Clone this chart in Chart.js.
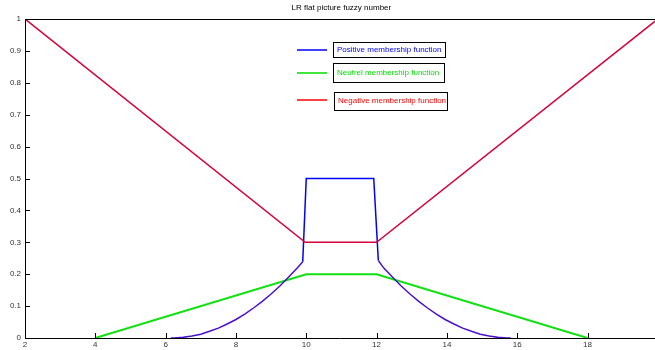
<!DOCTYPE html>
<html lang="en">
<head>
<meta charset="UTF-8">
<title>LR flat picture fuzzy number</title>
<script src="https://cdn.jsdelivr.net/npm/chart.js"></script>
<style>
    body { margin: 0; background: #fff; }
    canvas { display: block; }
</style>
</head>
<body>
<canvas id="fuzzyChart" width="655" height="350"></canvas>

<script>
// data
const chartTitle = 'LR flat picture fuzzy number';
const seriesNames = ['Positive membership function', 'Neutrel membership function', 'Negative membership function'];

const posX = [6.15, 6.25, 6.5, 6.75, 7, 7.25, 7.5, 7.75, 8, 8.25, 8.5, 8.75, 9, 9.25, 9.5, 9.75, 9.9,
              10.0, 11.92,
              12.05, 12.2, 12.45, 12.7, 12.95, 13.2, 13.45, 13.7, 13.95, 14.2, 14.45, 14.7, 14.95, 15.2, 15.45, 15.7, 15.82];
const posY = [0, 0.0002, 0.002, 0.006, 0.012, 0.021, 0.031, 0.044, 0.058, 0.075, 0.094, 0.115, 0.138, 0.163, 0.191, 0.220, 0.239,
              0.5, 0.5,
              0.243, 0.220, 0.191, 0.163, 0.138, 0.115, 0.094, 0.075, 0.058, 0.044, 0.031, 0.021, 0.012, 0.006, 0.002, 0.0002, 0];

const neuX = [4, 10, 12, 18];
const neuY = [0, 0.2, 0.2, 0];

const negX = [2, 9.97, 12.0, 20];
const negY = [1, 0.3, 0.3, 1];

const xTicks = [2, 4, 6, 8, 10, 12, 14, 16, 18];
const yTicks = [0, 0.1, 0.2, 0.3, 0.4, 0.5, 0.6, 0.7, 0.8, 0.9, 1];
const yLabels = ['0', '0.1', '0.2', '0.3', '0.4', '0.5', '0.6', '0.7', '0.8', '0.9', '1'];

const toPoints = (xs, ys) => xs.map((v, i) => ({ x: v, y: ys[i] }));

// axes box, inward ticks, title and the boxed legend like the matlab figure
const decor = {
    id: 'decor',
    afterDraw(chart) {
        const { ctx, chartArea: a, scales: { x, y } } = chart;
        ctx.save();
        ctx.strokeStyle = '#000';
        ctx.lineWidth = 1;
        ctx.beginPath();
        ctx.moveTo(a.left, a.top + 0.5);
        ctx.lineTo(a.right, a.top + 0.5);
        xTicks.forEach(v => {
            const px = Math.round(x.getPixelForValue(v)) + 0.5;
            ctx.moveTo(px, a.bottom);
            ctx.lineTo(px, a.bottom - 5);
        });
        yTicks.forEach(v => {
            const py = Math.round(y.getPixelForValue(v)) + 0.5;
            ctx.moveTo(a.left, py);
            ctx.lineTo(a.left + 5, py);
        });
        ctx.stroke();

        ctx.fillStyle = '#000';
        ctx.font = '8px "Liberation Sans", Arial, sans-serif';
        ctx.textAlign = 'center';
        ctx.textBaseline = 'middle';
        ctx.fillText(chartTitle, (x.getPixelForValue(2) + x.getPixelForValue(20)) / 2, 8);

        const boxes = [[333, 42, 112, 15], [333, 63, 111, 19], [334, 92, 113, 18]];
        const lineY = [50, 73, 100];
        const colors = ['#0000ff', '#00dd00', '#ff0000'];
        ctx.textAlign = 'left';
        seriesNames.forEach((name, i) => {
            const [bx, by, bw, bh] = boxes[i];
            ctx.strokeStyle = colors[i];
            ctx.lineWidth = 1.5;
            ctx.beginPath();
            ctx.moveTo(297, lineY[i]);
            ctx.lineTo(327, lineY[i]);
            ctx.stroke();
            ctx.strokeStyle = '#000';
            ctx.lineWidth = 1;
            ctx.strokeRect(bx + 0.5, by + 0.5, bw, bh);
            ctx.fillStyle = colors[i];
            ctx.fillText(name, bx + 4, by + bh / 2);
        });
        ctx.restore();
    }
};

new Chart(document.getElementById('fuzzyChart'), {
    type: 'scatter',
    data: {
        datasets: [
            {
                label: seriesNames[2],
                data: toPoints(negX, negY),
                showLine: true,
                borderColor: '#d8003c',
                borderWidth: 1.5,
                pointRadius: 0,
                order: 1
            },
            {
                label: seriesNames[0],
                data: toPoints(posX, posY),
                showLine: true,
                borderColor: '#0000ff',
                borderWidth: 1.5,
                pointRadius: 0,
                segment: {
                    borderColor: c => (c.p0.parsed.y > 0.3 || c.p1.parsed.y > 0.3) ? '#0000ff' : '#4a10cc'
                },
                order: 2
            },
            {
                label: seriesNames[1],
                data: toPoints(neuX, neuY),
                showLine: true,
                borderColor: '#11e011',
                borderWidth: 2,
                pointRadius: 0,
                order: 3
            }
        ]
    },
    options: {
        responsive: false,
        animation: false,
        layout: { padding: { top: 19, right: 0, left: 0, bottom: 0 } },
        plugins: {
            legend: { display: false },
            title: { display: false },
            tooltip: { enabled: false }
        },
        scales: {
            x: {
                type: 'linear',
                min: 2,
                max: 19.92,
                afterBuildTicks: axis => { axis.ticks = xTicks.map(v => ({ value: v })); },
                afterFit: axis => { axis.height = 12; },
                grid: { display: false, drawTicks: false, tickLength: 0 },
                border: { display: true, color: '#000', width: 1 },
                ticks: {
                    autoSkip: false,
                    maxRotation: 0,
                    padding: 2,
                    color: '#333',
                    font: { family: '"Liberation Sans", Arial, sans-serif', size: 8 }
                }
            },
            y: {
                min: 0,
                max: 1,
                afterBuildTicks: axis => { axis.ticks = yTicks.map(v => ({ value: v })); },
                afterFit: axis => { axis.width = 25; },
                grid: { display: false, drawTicks: false, tickLength: 0 },
                border: { display: true, color: '#000', width: 1 },
                ticks: {
                    padding: 4,
                    color: '#333',
                    callback: (v, i) => yLabels[i],
                    font: { family: '"Liberation Sans", Arial, sans-serif', size: 8 }
                }
            }
        }
    },
    plugins: [decor]
});
</script>
</body>
</html>
